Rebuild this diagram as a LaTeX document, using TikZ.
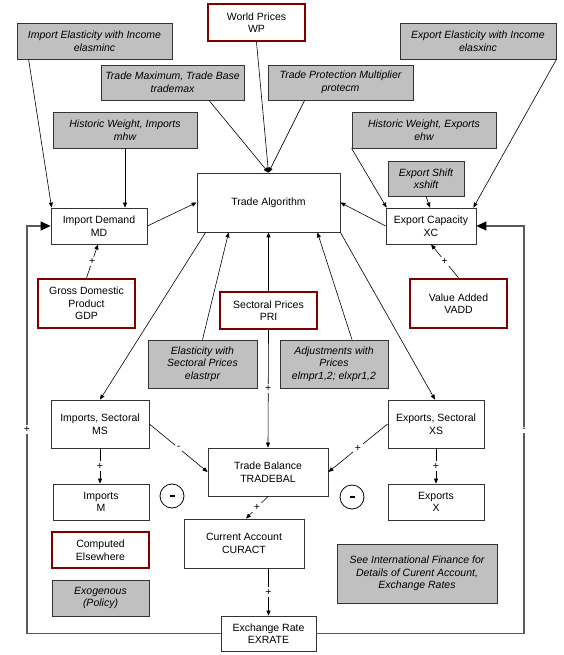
\documentclass[tikz,border=0pt]{standalone}
\usepackage{fontspec}
\setmainfont{Liberation Sans}
\usetikzlibrary{arrows.meta,calc}
\definecolor{redb}{HTML}{800000}
\definecolor{grayf}{HTML}{C0C0C0}
\definecolor{edge}{HTML}{333333}
\definecolor{loopc}{HTML}{5A5A5A}
\tikzset{
 base/.style={rectangle, inner sep=0pt, align=center, font=\fontsize{10.5}{12.5}\selectfont},
 wbox/.style={base, draw=edge, line width=0.8pt, fill=white},
 gbox/.style={base, draw=edge, line width=0.8pt, fill=grayf, font=\fontsize{10.5}{12.5}\selectfont\itshape},
 rbox/.style={base, draw=redb, line width=2.4pt, fill=white},
 conn/.style={draw=black, line width=0.6pt, -{Triangle[length=5pt,width=4pt]}},
 fb/.style={draw=loopc, line width=1.3pt, -{Triangle[length=10pt,width=9pt,color=black,fill=black]}},
 sign/.style={fill=white, inner sep=1.5pt, font=\fontsize{10.5}{12}\selectfont},
 minuscirc/.style={circle, draw=black, line width=0.8pt, minimum size=24pt, inner sep=0pt}
}
\begin{document}
\begin{tikzpicture}[x=1pt,y=-1pt]
\useasboundingbox[fill=white] (0,0) rectangle (564,655);

% top inputs
\node[rbox, minimum width=97, minimum height=37] (WP) at (256.5,22.5) {World Prices\\WP};
\node[gbox, minimum width=155, minimum height=36] (elasminc) at (94.5,41) {Import Elasticity with Income\\elasminc};
\node[gbox, minimum width=156, minimum height=36] (elasxinc) at (478,41) {Export Elasticity with Income\\elasxinc};
\node[gbox, minimum width=143, minimum height=35] (trademax) at (172.5,82.5) {Trade Maximum, Trade Base\\trademax};
\node[gbox, minimum width=145, minimum height=35] (protecm) at (340.5,82.5) {Trade Protection Multiplier\\protecm};
\node[gbox, minimum width=144, minimum height=36] (mhw) at (125,130) {Historic Weight, Imports\\mhw};
\node[gbox, minimum width=144, minimum height=36] (ehw) at (424,130) {Historic Weight, Exports\\ehw};
\node[gbox, minimum width=76, minimum height=35] (xshift) at (426,178.5) {Export Shift\\xshift};

% middle
\node[wbox, minimum width=143, minimum height=59] (TA) at (268.5,202.5) {Trade Algorithm};
\node[wbox, minimum width=96, minimum height=36] (MD) at (99,226) {Import Demand\\MD};
\node[wbox, minimum width=90, minimum height=36] (XC) at (431,226) {Export Capacity\\XC};
\node[rbox, minimum width=97, minimum height=49] (GDP) at (86.5,303.5) {Gross Domestic\\Product\\GDP};
\node[rbox, minimum width=97, minimum height=49] (VADD) at (458.5,303.5) {Value Added\\VADD};
\node[rbox, minimum width=97, minimum height=37] (PRI) at (268.5,310.5) {Sectoral Prices\\PRI};
\node[gbox, minimum width=109, minimum height=48] (elastrpr) at (202.5,364) {Elasticity with\\Sectoral Prices\\elastrpr};
\node[gbox, minimum width=108, minimum height=48] (adjust) at (334,364) {Adjustments with\\Prices\\elmpr1,2; elxpr1,2};

% lower
\node[wbox, minimum width=98, minimum height=48] (MS) at (100,424) {Imports, Sectoral\\MS};
\node[wbox, minimum width=96, minimum height=48] (XS) at (436,424) {Exports, Sectoral\\XS};
\node[wbox, minimum width=96, minimum height=36] (M) at (101,502) {Imports\\M};
\node[wbox, minimum width=96, minimum height=36] (X) at (436,502) {Exports\\X};
\node[wbox, minimum width=120, minimum height=48] (TB) at (268,472) {Trade Balance\\TRADEBAL};
\node[minuscirc] (c1) at (172,496) {\rule{5pt}{2.6pt}};
\node[minuscirc] (c2) at (352,497) {\rule{5pt}{2.6pt}};
\node[wbox, minimum width=120, minimum height=49] (CA) at (244,543.5) {Current Account\\CURACT};
\node[rbox, minimum width=97, minimum height=36] (comp) at (100.5,550) {Computed\\Elsewhere};
\node[gbox, minimum width=97, minimum height=36] (exo) at (100.5,598) {Exogenous\\(Policy)};
\node[wbox, minimum width=95, minimum height=35] (ER) at (268.5,633.5) {Exchange Rate\\EXRATE};
\node[gbox, minimum width=160, minimum height=59] (seeif) at (417,573.5) {See International Finance for\\Details of Curent Account,\\Exchange Rates};

% connectors into Import Demand / Export Capacity
\draw[conn] ([xshift=12pt]elasminc.south west) -- ([xshift=1pt]MD.north west);
\draw[conn] (mhw.south) -- (mhw.south |- MD.north);
\draw[conn] (ehw.south west) -- ([xshift=1pt]XC.north west);
\draw[conn] (xshift.south) -- ([xshift=-1pt]XC.north);
\draw[conn] (elasxinc.south east) -- ([xshift=-3pt]XC.north east);

% into Trade Algorithm top
\draw[conn] (WP.south) -- (TA.north);
\draw[conn] ([xshift=36.5pt]trademax.south) -- (TA.north);
\draw[conn] ([xshift=37pt]protecm.south west) -- (TA.north);

% sides of Trade Algorithm
\draw[conn] (MD.east) -- (TA.west);
\draw[conn] (XC.west) -- (TA.east);

% GDP, VADD
\draw[conn] (GDP.north) -- node[sign]{+} ([xshift=-1pt]MD.south);
\draw[conn] (VADD.north) -- node[sign]{+} (XC.south);

% into Trade Algorithm bottom
\draw[conn] (elastrpr.north) -- ([xshift=32pt]TA.south west);
\draw[conn] (PRI.north) -- (TA.south);
\draw[conn] ([xshift=18pt]adjust.north) -- ([xshift=-23pt]TA.south east);

% out of Trade Algorithm
\draw[conn] ([xshift=9pt]TA.south west) -- (MS.north);
\draw[conn] (TA.south east) -- ([xshift=-1pt]XS.north);

% to Trade Balance
\draw[conn] (PRI.south) -- node[sign]{+} (TB.north);
\draw[conn] (MS.east) -- node[sign]{-} (TB.west);
\draw[conn] (XS.west) -- node[sign]{+} (TB.east);
\draw[conn] (MS.south) -- node[sign]{+} (MS.south |- M.north);
\draw[conn] (XS.south) -- node[sign]{+} (X.north);
\draw[conn] (TB.south) -- node[sign]{+} ([xshift=2pt]CA.north);
\draw[conn] (CA.south -| ER.north) -- node[sign]{+} (ER.north);

% feedback loops
\coordinate (lx) at (27,0);
\coordinate (rx) at (524,0);
\draw[fb] (ER.west) -| node[sign, pos=0.75]{+} (lx |- MD.west) -- (MD.west);
\draw[fb] (ER.east) -| node[sign, pos=0.75]{-} (rx |- XC.east) -- (XC.east);
\end{tikzpicture}
\end{document}
